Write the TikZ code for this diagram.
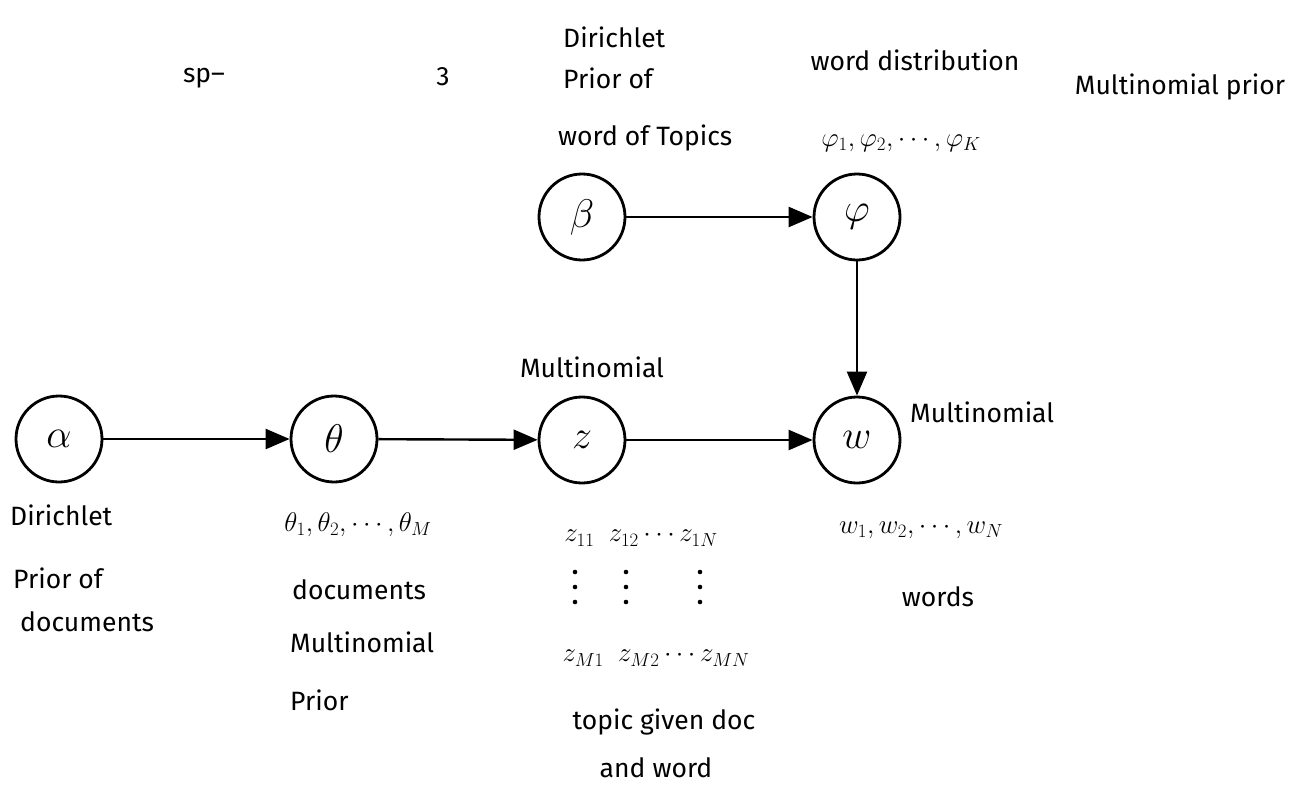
\RequirePackage{fix-cm}
\documentclass[tikz,border=0pt]{standalone}
\usepackage{fontspec}
\setmainfont{Fira Sans}
\usetikzlibrary{arrows.meta}
\begin{document}
\begin{tikzpicture}[x=1pt,y=-1pt,
  var/.style={circle,draw,line width=2.8pt,minimum size=86pt,inner sep=0pt,font=\fontsize{40}{44}\selectfont},
  lbl/.style={inner sep=0pt,font=\fontsize{26.5}{30}\selectfont},
  mth/.style={inner sep=0pt,font=\fontsize{27}{30}\selectfont},
  edge/.style={line width=2.4pt,-{Triangle[length=24pt,width=20pt]}}
]
\useasboundingbox (0,0) rectangle (1289,795);
% top fragments
\node[lbl] (sp) at (204,78) {sp–};
\node[lbl] (three) at (443,77) {3};
% variables
\node[var] (alpha) at (59,439) {$\alpha$};
\node[var] (theta) at (334,439) {$\theta$};
\node[var] (z) at (582,440) {$z$};
\node[var] (w) at (857,440) {$w$};
\node[var] (beta) at (582,217) {$\beta$};
\node[var] (phi) at (857,217) {$\varphi$};
% edges
\draw[edge] (alpha) -- (theta);
\draw[edge] (theta) -- (z);
\draw[edge] (z) -- (w);
\draw[edge] (beta) -- (phi);
\draw[edge] (phi) -- (w);
% labels near beta / phi
\node[lbl,anchor=west] (d1) at (563,37) {Dirichlet};
\node[lbl,anchor=west] (d2) at (563,78) {Prior of};
\node[lbl,anchor=west] (d3) at (558,138) {word of Topics};
\node[lbl] (wd) at (915,60) {word distribution};
\node[lbl] (mp) at (1180,87) {Multinomial prior};
\node[mth] (phis) at (901,143) {$\varphi_1, \varphi_2, \cdots, \varphi_K$};
% labels near z / w
\node[lbl] (multz) at (592,367) {Multinomial};
\node[lbl,anchor=west] (multw) at (910,412) {Multinomial};
% alpha labels
\node[lbl,anchor=west] (a1) at (10,515) {Dirichlet};
\node[lbl,anchor=west] (a2) at (13,578) {Prior of};
\node[lbl,anchor=west] (a3) at (20,622) {documents};
% theta labels
\node[mth] (thetas) at (358,525) {$\theta_1,\theta_2,\cdots,\theta_M$};
\node[lbl,anchor=west] (t1) at (292,590) {documents};
\node[lbl,anchor=west] (t2) at (290,642) {Multinomial};
\node[lbl,anchor=west] (t3) at (290,700) {Prior};
% z labels
\node[mth] (zr1) at (641,538) {$z_{11}\ \ z_{12}\cdots z_{1N}$};
\foreach \x in {575,626,700}
  \foreach \y in {572,587,602}
    \fill (\x,\y) circle[radius=2.3pt];
\node[mth] (zr2) at (656,658) {$z_{M1}\ \ z_{M2}\cdots z_{MN}$};
\node[lbl] (z1) at (664,722) {topic given doc};
\node[lbl] (z2) at (656,768) {and word};
% w labels
\node[mth] (ws) at (921,530) {$w_1,w_2,\cdots,w_N$};
\node[lbl] (words) at (938,597) {words};
\end{tikzpicture}
\end{document}
